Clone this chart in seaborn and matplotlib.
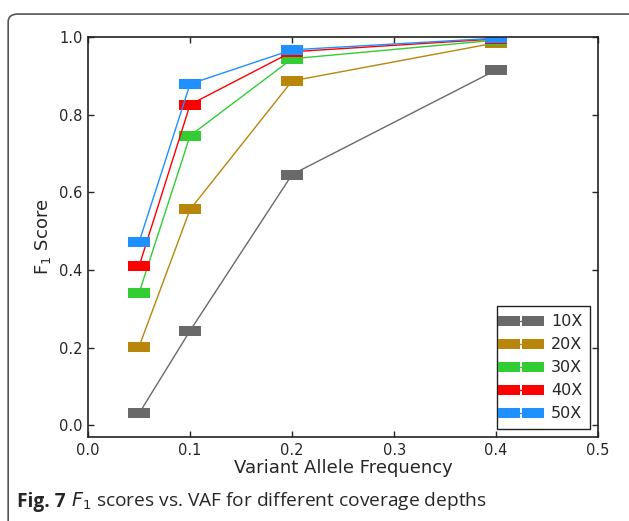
import numpy as np
import pandas as pd
import matplotlib
matplotlib.use("Agg")
import matplotlib.pyplot as plt
from matplotlib.patches import FancyBboxPatch
import seaborn as sns

# datos
vaf = [0.05, 0.1, 0.2, 0.4]
depths = ['10X', '20X', '30X', '40X', '50X']
f1_10x = [0.031, 0.244, 0.646, 0.915]
f1_20x = [0.203, 0.556, 0.887, 0.985]
f1_30x = [0.341, 0.746, 0.944, 0.992]
f1_40x = [0.410, 0.826, 0.962, 0.995]
f1_50x = [0.472, 0.879, 0.967, 0.997]
colores = ['#696969', '#b8860b', '#32cd32', '#ff0000', '#1e90ff']

rows = []
for d, vals in zip(depths, [f1_10x, f1_20x, f1_30x, f1_40x, f1_50x]):
    for x, y in zip(vaf, vals):
        rows.append({'VAF': x, 'F1': y, 'depth': d})
df = pd.DataFrame(rows)

sns.set_style("ticks", {"xtick.direction": "in", "ytick.direction": "in"})
plt.rcParams['font.family'] = ['DejaVu Sans']

# marcador rectangular ancho
rect = [(-1, -0.42), (1, -0.42), (1, 0.42), (-1, 0.42), (-1, -0.42)]

fig = plt.figure(figsize=(6.29, 5.21), dpi=100)
ax = fig.add_axes([0.140, 0.161, 0.811, 0.768])

sns.lineplot(data=df, x='VAF', y='F1', hue='depth', hue_order=depths,
             palette=colores, marker=rect, markersize=16, markeredgewidth=0,
             linewidth=1, ax=ax, legend=False)

for sp in ax.spines.values():
    sp.set_color('#222222')
    sp.set_linewidth(1.2)

ax.set_xlim(0, 0.5)
ax.set_ylim(-0.03, 1.0)
ax.set_xticks(np.arange(0, 0.51, 0.1))
ax.set_yticks(np.arange(0, 1.01, 0.2))
ax.set_xticklabels(['%.1f' % t for t in np.arange(0, 0.51, 0.1)])
ax.set_yticklabels(['%.1f' % t for t in np.arange(0, 1.01, 0.2)])
ax.tick_params(top=True, right=True, length=4, width=1, labelsize=10.5, pad=4)
ax.set_xlabel('Variant Allele Frequency', fontsize=13, labelpad=1)
ax.set_ylabel('F$_1$ Score', fontsize=13, labelpad=4)

handles = [plt.Line2D([], [], color=c, marker=rect, markersize=16,
                      markeredgewidth=0, linewidth=1) for c in colores]
leg = ax.legend(handles, depths, loc='lower right', numpoints=2,
                handlelength=2.1, fontsize=11.5, fancybox=False,
                edgecolor='#222222', framealpha=1, borderpad=0.5,
                labelspacing=0.5, handletextpad=0.8)
leg.get_frame().set_linewidth(1.0)

# recuadro redondeado del articulo
caja = FancyBboxPatch((0.013, -0.1), 1.1, 1.073, boxstyle="round,pad=0,rounding_size=0.015",
                      transform=fig.transFigure, facecolor='none',
                      edgecolor='#555555', linewidth=1.2, zorder=-1)
fig.patches.append(caja)

t1 = fig.text(0.027, 0.027, 'Fig. 7', fontsize=13.8, fontweight='bold',
              family='Open Sans', ha='left', va='baseline')
fig.canvas.draw()
ax.annotate('$F_1$ scores vs. VAF for different coverage depths', xy=(1, 0),
            xycoords=t1, xytext=(4, 0), textcoords='offset points',
            fontsize=13.8, family='Open Sans', ha='left', va='bottom')

plt.savefig('out.png', dpi=100)
